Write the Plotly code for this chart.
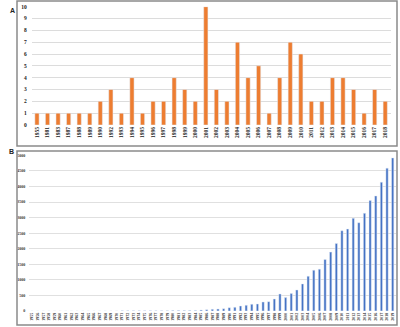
import plotly.graph_objects as go

# Panel A data
years_a = ["1955", "1981", "1983", "1987", "1988", "1989", "1990", "1992", "1993", "1994",
           "1995", "1996", "1997", "1998", "1999", "2000", "2001", "2002", "2003", "2004",
           "2005", "2006", "2007", "2008", "2009", "2010", "2011", "2012", "2013", "2014",
           "2015", "2016", "2017", "2018"]
counts_a = [1, 1, 1, 1, 1, 1, 2, 3, 1, 4,
            1, 2, 2, 4, 3, 2, 10, 3, 2, 7,
            4, 5, 1, 4, 7, 6, 2, 2, 4, 4,
            3, 1, 3, 2]

# Panel B data
years_b = [str(y) for y in range(1955, 2020)]
counts_b = [1, 0, 1, 1, 1, 1, 2, 1, 2, 2,
            2, 3, 3, 3, 4, 4, 5, 5, 6, 7,
            8, 8, 10, 11, 12, 13, 14, 16, 17, 20,
            32, 43, 54, 65, 75, 108, 118, 161, 183, 215,
            226, 290, 301, 387, 548, 430, 559, 677, 871, 1118,
            1312, 1344, 1656, 1892, 2172, 2580, 2634, 2978, 2838, 3140,
            3548, 3698, 4139, 4591, 4920]
ticks_b = list(range(0, 5001, 500))

W, H = 400, 327
def fx(px): return px / W
def fy(py): return 1 - py / H

fig = go.Figure()
fig.add_trace(go.Bar(x=years_a, y=counts_a, marker_color="#ED7D31", xaxis="x", yaxis="y",
                     showlegend=False))
fig.add_trace(go.Bar(x=years_b, y=counts_b, marker_color="#4472C4", xaxis="x2", yaxis="y2",
                     showlegend=False))

tickfont_a = dict(family="Liberation Serif", size=5.5, color="#222", weight="bold")
tickfont_b = dict(family="Liberation Serif", size=4, color="#333", weight="bold")

fig.update_layout(
    width=W, height=H,
    margin=dict(l=0, r=0, t=0, b=0),
    paper_bgcolor="white", plot_bgcolor="white",
    bargap=0.6,
    xaxis=dict(domain=[fx(31.7), fx(390.5)], anchor="y", type="category",
               tickangle=-90, tickfont=tickfont_a, showgrid=False, ticks="",
               showline=False, zeroline=False, automargin=False),
    yaxis=dict(domain=[fy(125), fy(6.7)], anchor="x", range=[0, 10], dtick=1,
               tickfont=tickfont_a, gridcolor="#dcdcdc", gridwidth=1, zeroline=False,
               ticks="", ticklabelstandoff=4, automargin=False),
    xaxis2=dict(domain=[fx(29.2), fx(395.5)], anchor="y2", type="category",
                tickangle=-90, tickfont=tickfont_b, showgrid=False, ticks="",
                showline=False, zeroline=False, automargin=False),
    yaxis2=dict(domain=[fy(311), fy(155.4)], anchor="x2", range=[0, 5000],
                tickvals=ticks_b, tickfont=tickfont_b, gridcolor="#e0e0e0", gridwidth=1,
                zeroline=False, ticks="", ticklabelstandoff=3, automargin=False),
    shapes=[
        dict(type="rect", xref="paper", yref="paper", x0=fx(17), x1=fx(397),
             y0=fy(146), y1=fy(1), line=dict(color="#8a8a8a", width=1.5)),
        dict(type="rect", xref="paper", yref="paper", x0=fx(17), x1=fx(397),
             y0=fy(325), y1=fy(151), line=dict(color="#8a8a8a", width=1.5)),
    ],
    annotations=[
        dict(text="<b>A</b>", x=fx(8), y=fy(5), xref="paper", yref="paper",
             showarrow=False, font=dict(family="Liberation Sans", size=7, color="#222")),
        dict(text="<b>B</b>", x=fx(7), y=fy(152), xref="paper", yref="paper",
             showarrow=False, font=dict(family="Liberation Sans", size=7, color="#222")),
    ],
)

fig.write_html("out.html",
               config={"displayModeBar": False},
               post_script="document.body.style.margin='0';document.body.style.padding='0';"
                           "document.body.style.overflow='hidden';")
